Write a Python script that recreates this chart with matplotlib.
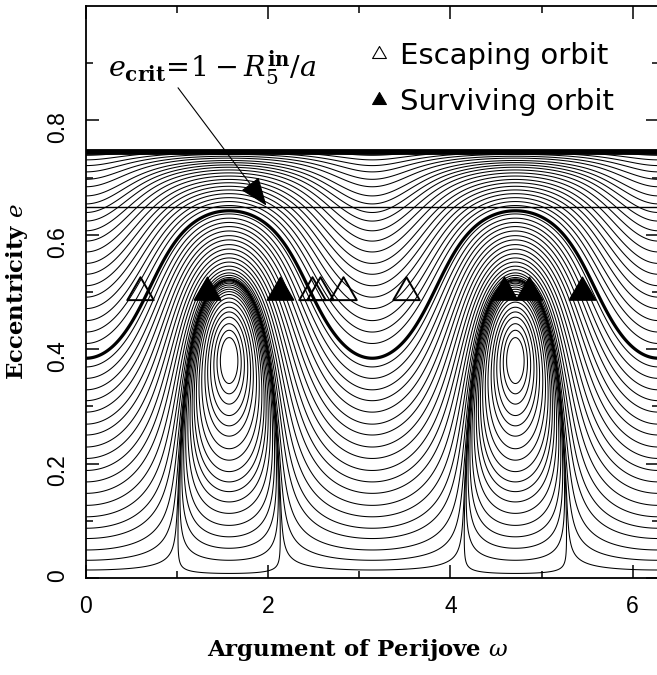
import numpy as np
import matplotlib
matplotlib.use("Agg")
import matplotlib.pyplot as plt
from matplotlib.lines import Line2D
from matplotlib.path import Path

plt.rcParams['mathtext.fontset'] = 'dejavuserif'

# Kozai integral sqrt(1-e^2) cos(i) shared by all the orbits drawn
theta_z = 0.661

# eccentricity where each circulating orbit crosses omega = 0
e_circ_at_0 = [0.014, 0.031, 0.049, 0.069, 0.087, 0.107, 0.127, 0.148, 0.168,
               0.188, 0.209, 0.229, 0.250, 0.269, 0.290, 0.310, 0.329, 0.349,
               0.369, 0.410, 0.430, 0.450, 0.471, 0.491, 0.511, 0.531, 0.550,
               0.570, 0.589, 0.607, 0.624, 0.639, 0.654, 0.668, 0.684, 0.697,
               0.710, 0.721, 0.731, 0.739]
# eccentricity where each librating orbit crosses omega = pi/2 (below centre)
e_lib_at_90 = [0.008, 0.031, 0.052, 0.072, 0.092, 0.113, 0.133, 0.151, 0.168,
               0.186, 0.206, 0.226, 0.248, 0.266, 0.284, 0.304, 0.322, 0.340]
e_bold_at_90 = 0.642
e_crit = 0.649
e_limit = 0.744

escape_omega = [0.593, 2.478, 2.569, 2.824, 3.509]
escape_e = [0.5, 0.5, 0.5, 0.5, 0.5]
survive_omega = [1.325, 2.130, 4.583, 4.863, 5.441]
survive_e = [0.5, 0.5, 0.5, 0.5, 0.5]


def kozai_energy(omega, e):
    x = e ** 2
    cos2i = theta_z ** 2 / (1.0 - x)
    return (2 + 3 * x) * (3 * cos2i - 1) + 15 * x * (1 - cos2i) * np.cos(2 * omega)


# closed triangle marker centred on its centroid
tri = Path([(-1.0, -0.5774), (1.0, -0.5774), (0.0, 1.1547), (-1.0, -0.5774)],
           [Path.MOVETO, Path.LINETO, Path.LINETO, Path.CLOSEPOLY])

fig = plt.figure(figsize=(6.57, 6.75), dpi=100)
ax = fig.add_axes([86 / 657, 97 / 675, 572.5 / 657, 572 / 675])

omega = np.linspace(0, 2 * np.pi, 1800)
ecc = np.linspace(0, e_limit, 1400)
W, E = np.meshgrid(omega, ecc)
H = kozai_energy(W, E)

levels = [kozai_energy(0.0, e) for e in e_circ_at_0]
levels += [kozai_energy(np.pi / 2, e) for e in e_lib_at_90]
levels = np.unique(np.round(levels, 10))
ax.contour(W, E, H, levels=levels, colors='k', linewidths=0.75)
ax.contour(W, E, H, levels=[kozai_energy(np.pi / 2, e_bold_at_90)],
           colors='k', linewidths=2.3)

ax.axhline(e_limit, color='k', lw=4.2)
ax.axhline(e_crit, color='k', lw=1.0)

ax.plot(escape_omega, escape_e, ls='none', marker=tri, ms=22, mfc='none',
        mec='k', mew=1.4, zorder=5)
ax.plot(survive_omega, survive_e, ls='none', marker=tri, ms=22, mfc='k',
        mec='k', mew=1.0, zorder=5)

ax.text(0.2415, 0.876, r'$e_{\mathbf{crit}}\!=\!\mathit{1}-R_{5}^{\mathbf{in}}/a$',
        fontsize=20.5, va='baseline', ha='left')
ax.annotate('', xy=(1.98, 0.651), xytext=(1.01, 0.857),
            arrowprops=dict(arrowstyle='-|>,head_length=0.9,head_width=0.35',
                            color='k', lw=0.8, mutation_scale=20,
                            shrinkA=0, shrinkB=0))

handles = [Line2D([], [], ls='none', marker=tri, ms=11.5, mfc='none', mec='k', mew=0.8),
           Line2D([], [], ls='none', marker=tri, ms=11.5, mfc='k', mec='k', mew=0.8)]
ax.legend(handles, ['Escaping orbit', 'Surviving orbit'], loc='upper left',
          bbox_to_anchor=(0.4908, 0.937), frameon=False, borderpad=0,
          borderaxespad=0, handlelength=0.8, handletextpad=0.32,
          labelspacing=0.62, prop=dict(family='DejaVu Sans', size=21))

ax.set_xlim(0, 2 * np.pi)
ax.set_ylim(0, 1)
ax.set_xticks([0, 2, 4, 6])
ax.set_xticks([1, 3, 5], minor=True)
ax.set_yticks([0, 0.2, 0.4, 0.6, 0.8])
ax.set_yticklabels(['0', '0.2', '0.4', '0.6', '0.8'])
ax.set_yticks([0.1, 0.3, 0.5, 0.7, 0.9], minor=True)
ax.tick_params(which='both', direction='in', top=True, right=True, width=1.1)
ax.tick_params(which='major', length=9.5, pad=12, labelsize=16.5)
ax.tick_params(which='minor', length=5)
ax.tick_params(axis='y', labelrotation=90)
for lab in ax.get_xticklabels() + ax.get_yticklabels():
    lab.set_fontfamily('Liberation Sans')
for sp in ax.spines.values():
    sp.set_linewidth(1.3)

ax.set_xlabel(r'Argument of Perijove $\omega$', fontfamily='DejaVu Serif',
              fontweight='bold', fontsize=16.5)
ax.set_ylabel(r'Eccentricity $e$', fontfamily='DejaVu Serif',
              fontweight='bold', fontsize=16.5)
ax.xaxis.set_label_coords(0.475, -0.103)
ax.yaxis.set_label_coords(-0.098, 0.5)

fig.savefig('out.png', dpi=100)
